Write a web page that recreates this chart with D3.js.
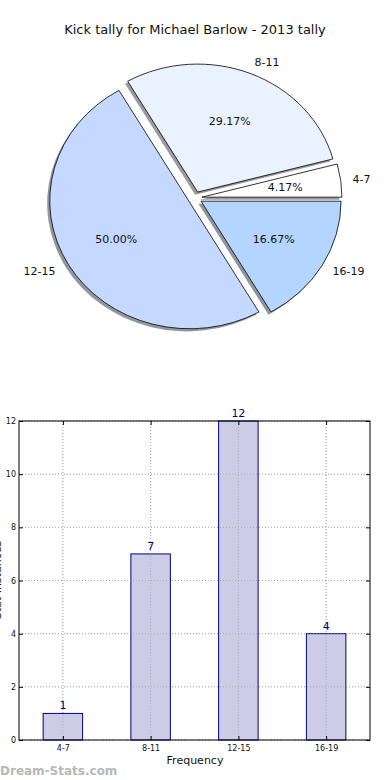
<!DOCTYPE html>
<html><head><meta charset="utf-8">
<script src="https://cdn.jsdelivr.net/npm/d3@7"></script>
<style>body{margin:0;background:#fff;}svg{display:block;font-family:"DejaVu Sans",sans-serif;}</style>
</head><body>
<svg id="c" width="390" height="780"></svg>
<script>
const title = "Kick tally for Michael Barlow - 2013 tally";
const categories = ["4-7", "8-11", "12-15", "16-19"];
const values = [1, 7, 12, 4];
const pieColors = ["#ffffff", "#eaf1ff", "#c5d8ff", "#b3d5ff"];
const yTicks = [0, 2, 4, 6, 8, 10, 12];
const xLabel = "Frequency";
const yLabel = "Stat Instances";
const watermark = "Dream-Stats.com";

const svg = d3.select("#c");
svg.append("text").attr("x", 195).attr("y", 34).attr("text-anchor", "middle")
  .attr("font-size", 13).attr("fill", "#111").text(title);

// ---- Pie (elliptical, matplotlib-like) ----
const cx = 195, cy = 198, rx = 140, ry = 128, explode = 0.05;
const total = d3.sum(values);
const pie = d3.pie().sort(null).value(d => d).startAngle(Math.PI / 2).endAngle(Math.PI / 2 - 2 * Math.PI);
const arcs = pie(values);
const arcGen = d3.arc().innerRadius(0).outerRadius(1);
const g = svg.append("g");
function off(a, k) { return [k * rx * Math.sin(a), -k * ry * Math.cos(a)]; }
function shade(c) { const col = d3.rgb(c); return d3.rgb(col.r * 0.3, col.g * 0.3, col.b * 0.3).toString(); }
// shadows
arcs.forEach((a, i) => {
  const m = (a.startAngle + a.endAngle) / 2;
  const [ox, oy] = off(m, explode);
  g.append("path").attr("d", arcGen(a))
    .attr("transform", `translate(${cx + ox - 2.6},${cy + oy + 2.6}) scale(${rx},${ry})`)
    .attr("fill", shade(pieColors[i])).attr("fill-opacity", 0.55).attr("stroke", "none");
});
arcs.forEach((a, i) => {
  const m = (a.startAngle + a.endAngle) / 2;
  const [ox, oy] = off(m, explode);
  g.append("path").attr("d", arcGen(a))
    .attr("transform", `translate(${cx + ox},${cy + oy}) scale(${rx},${ry})`)
    .attr("fill", pieColors[i]).attr("stroke", "#000").attr("stroke-width", 0.8)
    .attr("vector-effect", "non-scaling-stroke");
});
arcs.forEach((a, i) => {
  const m = (a.startAngle + a.endAngle) / 2;
  const [ox, oy] = off(m, explode);
  const [lx, ly] = off(m, 1.1);
  const [px, py] = off(m, 0.6);
  const X = cx + ox + lx;
  g.append("text").attr("x", X + (X > cx ? -2 : 0)).attr("y", cy + oy + ly).attr("dy", "0.35em")
    .attr("text-anchor", X > cx ? "start" : "end").attr("font-size", 11).attr("fill", "#111")
    .text(categories[i]);
  g.append("text").attr("x", cx + ox + px).attr("y", cy + oy + py).attr("dy", "0.35em")
    .attr("text-anchor", "middle").attr("font-size", 11).attr("fill", "#111")
    .text((values[i] / total * 100).toFixed(2) + "%");
});

// ---- Bar chart ----
const L = 19, R = 370, T = 421, B = 740;
const x = d3.scaleLinear().domain([-0.5, 3.5]).range([L, R]);
const y = d3.scaleLinear().domain([0, 12]).range([B, T]);
const bw = 0.45;
const bg = svg.append("g");
// grid
bg.selectAll(".gy").data(yTicks).enter().append("line")
  .attr("x1", L).attr("x2", R).attr("y1", d => y(d)).attr("y2", d => y(d))
  .attr("stroke", "#bbb").attr("stroke-width", 1).attr("stroke-dasharray", "1,2");
bg.selectAll(".gx").data(categories).enter().append("line")
  .attr("x1", (d, i) => x(i)).attr("x2", (d, i) => x(i)).attr("y1", T).attr("y2", B)
  .attr("stroke", "#bbb").attr("stroke-width", 1).attr("stroke-dasharray", "1,2");
// bars
bg.selectAll(".bar").data(values).enter().append("rect")
  .attr("x", (d, i) => x(i - bw / 2)).attr("width", x(bw) - x(0))
  .attr("y", d => y(d)).attr("height", d => B - y(d))
  .attr("fill", "#ccccE6").attr("stroke", "#000080").attr("stroke-width", 1);
// grid over bars
bg.selectAll(".gx2").data(categories).enter().append("line")
  .attr("x1", (d, i) => x(i)).attr("x2", (d, i) => x(i)).attr("y1", T).attr("y2", B)
  .attr("stroke", "#999").attr("stroke-opacity", 0.6).attr("stroke-width", 1).attr("stroke-dasharray", "1,2");
bg.selectAll(".gy2").data(yTicks).enter().append("line")
  .attr("x1", L).attr("x2", R).attr("y1", d => y(d)).attr("y2", d => y(d))
  .attr("stroke", "#999").attr("stroke-opacity", 0.6).attr("stroke-width", 1).attr("stroke-dasharray", "1,2");
// value labels
bg.selectAll(".vl").data(values).enter().append("text")
  .attr("x", (d, i) => x(i)).attr("y", d => y(d) - 4).attr("text-anchor", "middle")
  .attr("font-size", 11).attr("fill", "#000080").text(d => d);
// frame
bg.append("rect").attr("x", L).attr("y", T).attr("width", R - L).attr("height", B - T)
  .attr("fill", "none").attr("stroke", "#000").attr("stroke-width", 1);
// axes
const yAxis = d3.axisLeft(y).tickValues(yTicks).tickSize(-4).tickPadding(3);
const ya = bg.append("g").attr("transform", `translate(${L},0)`).call(yAxis);
const yAxisR = d3.axisRight(y).tickValues(yTicks).tickSize(-4).tickFormat("");
const yr = bg.append("g").attr("transform", `translate(${R},0)`).call(yAxisR);
const xAxis = d3.axisBottom(x).tickValues([0, 1, 2, 3]).tickFormat(i => categories[i]).tickSize(-4).tickPadding(5);
const xa = bg.append("g").attr("transform", `translate(0,${B})`).call(xAxis);
const xAxisT = d3.axisTop(x).tickValues([0, 1, 2, 3]).tickSize(-4).tickFormat("");
const xt = bg.append("g").attr("transform", `translate(0,${T})`).call(xAxisT);
[ya, yr, xa, xt].forEach(a => {
  a.select(".domain").remove();
  a.selectAll("line").attr("stroke", "#000");
  a.selectAll("text").attr("font-size", 8).attr("fill", "#111").attr("font-family", "DejaVu Sans, sans-serif");
});
svg.append("text").attr("x", 195).attr("y", 764).attr("text-anchor", "middle")
  .attr("font-size", 11).attr("fill", "#111").text(xLabel);
svg.append("text").attr("transform", "translate(1,580) rotate(-90)").attr("text-anchor", "middle")
  .attr("font-size", 11).attr("fill", "#111").text(yLabel);
svg.append("text").attr("x", 0).attr("y", 775).attr("font-size", 12).attr("font-weight", "bold")
  .attr("fill", "#b8b8b8").text(watermark);
</script>
</body></html>
